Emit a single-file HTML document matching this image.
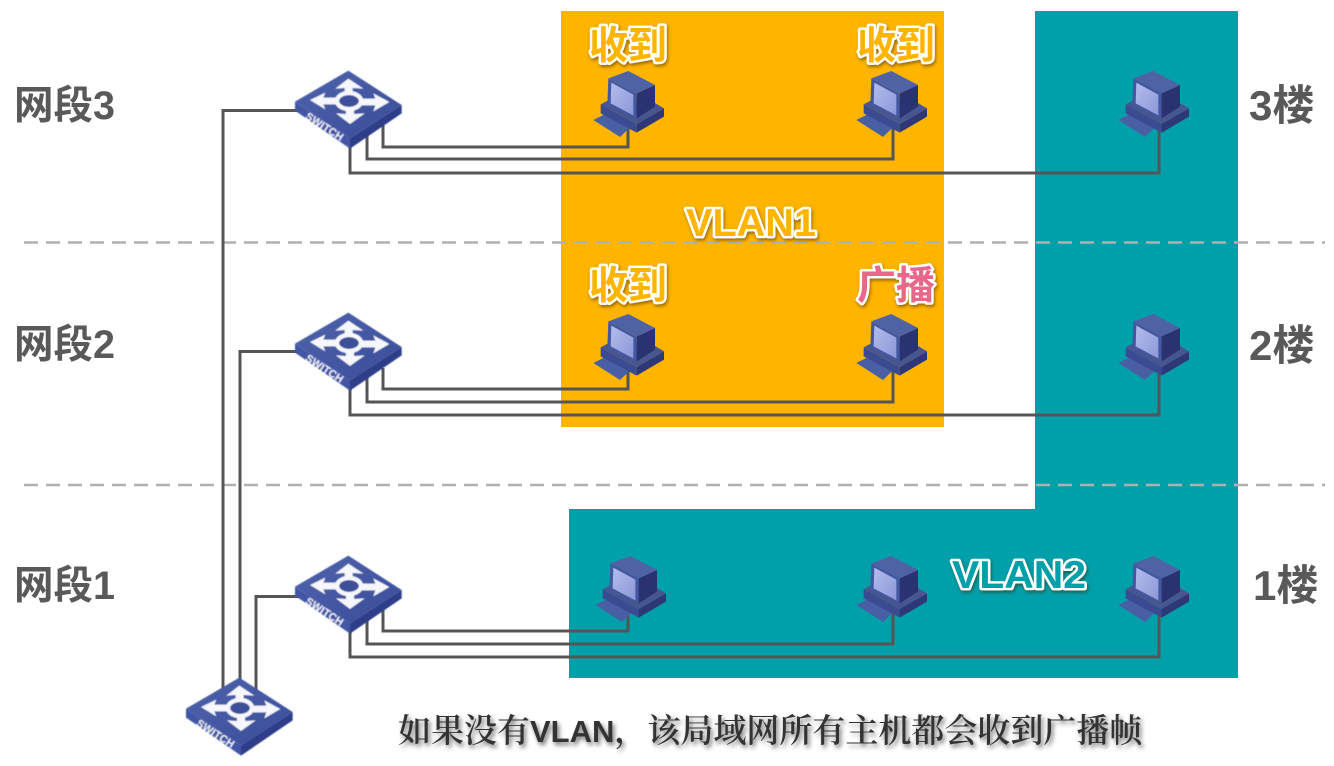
<!DOCTYPE html>
<html><head><meta charset="utf-8">
<style>
html,body{margin:0;padding:0;background:#fff;width:1334px;height:766px;overflow:hidden}
svg{display:block}
.l{font-family:"Liberation Sans","Noto Sans CJK SC",sans-serif;font-weight:700;font-size:39.5px;fill:#595959}
.f{font-size:42px}
.o{font-family:"Liberation Sans","Noto Sans CJK SC",sans-serif;font-weight:700;font-size:39px;stroke:#fff;stroke-width:5px;paint-order:stroke;stroke-linejoin:round;filter:drop-shadow(1px 2px 1.5px rgba(60,40,0,.55))}
.w{fill:none;stroke:#555;stroke-width:3}
.b{font-family:"Noto Serif CJK SC","Liberation Serif",serif;font-size:33px;fill:#333;font-weight:600;filter:drop-shadow(2px 3px 2.5px rgba(0,0,0,.55))}
</style></head><body>
<svg width="1334" height="766" viewBox="0 0 1334 766" xmlns="http://www.w3.org/2000/svg">
<defs>
<linearGradient id="tf" x1="0" y1="0" x2="1" y2="1">
<stop offset="0" stop-color="#4f64ad"/><stop offset="1" stop-color="#3a4b98"/>
</linearGradient>
<linearGradient id="scr" x1="0" y1="0" x2="1" y2="1">
<stop offset="0" stop-color="#b4bcec"/><stop offset="1" stop-color="#8c98d8"/>
</linearGradient>
<filter id="soft" x="-5%" y="-5%" width="110%" height="110%"><feGaussianBlur stdDeviation=".4"/></filter>
<g id="sw" filter="url(#soft)">
<g transform="translate(280,50) scale(.33333)">
<polygon points="45,155 210,265 210,296 45,182" fill="#4357a6"/>
<polygon points="210,265 365,165 365,190 210,296" fill="#2d3d8a"/>
<polygon points="205,62 365,165 210,265 45,155" fill="url(#tf)"/>
<g fill="#f6f7fc">
<polygon points="205,86 250,116 218,114 218,130 194,130 194,114 166,116"/>
<polygon points="210,222 254,190 222,192 222,176 198,176 198,192 168,190"/>
<polygon points="90,150 136,128 130,143 172,143 172,163 130,163 136,178"/>
<polygon points="328,156 280,130 286,146 242,146 242,166 286,166 280,184"/>
</g>
<ellipse cx="207" cy="153" rx="36" ry="24" fill="#3d4f98" stroke="#f6f7fc" stroke-width="13"/>
<text transform="translate(74,204) rotate(33)" font-family="Liberation Sans,sans-serif" font-weight="700" font-size="32" fill="#eef0f8" textLength="128">SWITCH</text>
</g>
</g>
<g id="pc" transform="translate(570,10) scale(.33333)" filter="url(#soft)">
<polygon points="70,330 102,314 180,352 150,381" fill="#4a5fa4"/>
<polygon points="92,283 200,342 200,368 92,310" fill="#3b4c92"/>
<polygon points="200,342 282,295 282,320 200,368" fill="#2d3779"/>
<polygon points="92,283 120,268 240,270 282,295 200,342" fill="#46568f"/>
<polygon points="115,205 200,250 200,325 112,285" fill="#44589f"/>
<polygon points="200,250 255,225 255,290 200,325" fill="#2a3272"/>
<polygon points="115,205 175,183 255,225 200,250" fill="#4f63a4"/>
<polygon points="124,218 190,254 190,316 122,280" fill="url(#scr)"/>
</g>
</defs>
<rect x="561" y="11" width="383" height="416" fill="#ffb400"/>
<polygon points="1035,11 1238,11 1238,678 569,678 569,509 1035,509" fill="#00a0aa"/>
<line x1="24" y1="242.500" x2="1325" y2="242.500" stroke="#b0b0b0" stroke-width="2.500" stroke-dasharray="14 8"/>
<line x1="24" y1="485" x2="1325" y2="485" stroke="#b0b0b0" stroke-width="2.500" stroke-dasharray="14 8"/>

<path class="w" d="M223,690V110.500H300M240,690V351.500H300M256,695V596.500H300"/>
<g id="wires">
<path class="w" d="M383,125V147H628V125M367,130V159H893V125M350,140V173H1159V125"/>
<path class="w" d="M383,368V389H628V368M367,373V402H893V368M350,383V415H1159V368"/>
<path class="w" d="M383,610V631H628V610M367,615V644H893V610M350,625V657H1159V610"/>
</g>

<use href="#sw"/>
<use href="#sw" y="242"/>
<use href="#sw" y="485"/>
<use href="#sw" x="-109" y="607"/>

<use href="#pc"/><use href="#pc" x="263"/><use href="#pc" x="525"/>
<use href="#pc" y="243"/><use href="#pc" x="263" y="243"/><use href="#pc" x="525" y="243"/>
<use href="#pc" x="2" y="485"/><use href="#pc" x="263" y="485"/><use href="#pc" x="525" y="485"/>

<text class="l" x="14" y="119">网段3</text>
<text class="l" x="14" y="358">网段2</text>
<text class="l" x="14" y="599">网段1</text>
<text class="l f" x="1249" y="120">3楼</text>
<text class="l f" x="1249" y="360">2楼</text>
<text class="l f" x="1253" y="600">1楼</text>

<text class="o" x="589" y="59" fill="#ffb400">收到</text>
<text class="o" x="857" y="59" fill="#ffb400">收到</text>
<text class="o" x="589" y="299" fill="#ffb400">收到</text>
<text class="o" x="857" y="299" fill="#e8688a">广播</text>
<text class="o" x="686" y="236" fill="#ffb400" textLength="130" lengthAdjust="spacingAndGlyphs">VLAN1</text>
<text class="o" x="952" y="588" fill="#00a0aa" textLength="134" lengthAdjust="spacingAndGlyphs">VLAN2</text>

<text class="b" x="398" y="742">如果没有<tspan font-family="Liberation Sans,sans-serif" font-weight="700" font-size="31">VLAN</tspan>，该局域网所有主机都会收到广播帧</text>
</svg>
</body></html>
